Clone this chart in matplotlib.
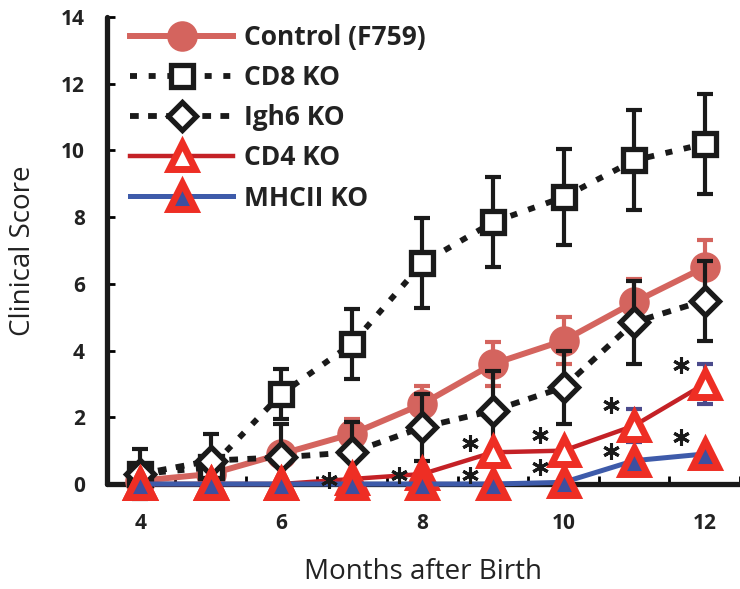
import matplotlib
matplotlib.use("Agg")
import matplotlib.pyplot as plt
from matplotlib.ticker import MultipleLocator

plt.rcParams['font.family'] = ['Open Sans', 'DejaVu Sans']

# data
months = [4, 5, 6, 7, 8, 9, 10, 11, 12]

control = [0.1, 0.3, 0.9, 1.5, 2.4, 3.6, 4.3, 5.45, 6.5]
control_err = [0.0, 0.0, 0.15, 0.45, 0.55, 0.65, 0.7, 0.7, 0.8]

cd8 = [0.3, 0.5, 2.7, 4.2, 6.62, 7.85, 8.6, 9.7, 10.2]
cd8_err = [0.3, 0.4, 0.75, 1.05, 1.35, 1.35, 1.45, 1.5, 1.5]

igh6 = [0.3, 0.7, 0.8, 0.95, 1.7, 2.2, 2.9, 4.85, 5.5]
igh6_err = [0.75, 0.8, 1.0, 0.9, 1.0, 1.2, 1.1, 1.25, 1.2]

cd4 = [0.0, 0.0, 0.0, 0.15, 0.3, 0.95, 1.0, 1.75, 3.0]
cd4_err = [0, 0, 0, 0, 0, 0, 0, 0.5, 0.6]

mhcii = [0.0, 0.0, 0.0, 0.0, 0.0, 0.0, 0.05, 0.7, 0.9]

# significance stars (month of point, height of the star)
cd4_sig = [7, 8, 9, 10, 11, 12]
cd4_star_y = [0.12, 0.27, 1.23, 1.47, 2.37, 3.57]
mhc_sig = [9, 10, 11, 12]
mhc_star_y = [0.27, 0.51, 0.99, 1.41]

fig = plt.figure(figsize=(7.4, 5.89), dpi=100)
ax = fig.add_axes([107 / 740, 105 / 589, 633 / 740, 467 / 589])

salmon = '#D4645E'
red_edge = '#EE2E24'
ink = '#1a1a1a'

series = [
    dict(y=control, err=control_err, label='Control (F759)', color=salmon, ls='-', lw=4.3,
         marker='o', ms=22, mfc=salmon, mec=salmon, mew=0, ecolor=salmon),
    dict(y=cd8, err=cd8_err, label='CD8 KO', color=ink, ls=(0, (1.2, 2.0)), lw=4.2,
         marker='s', ms=16.5, mfc='white', mec=ink, mew=3.8, ecolor=ink),
    dict(y=igh6, err=igh6_err, label='Igh6 KO', color=ink, ls=(0, (1.5, 1.6)), lw=4.2,
         marker='D', ms=14, mfc='white', mec=ink, mew=3.8, ecolor=ink),
    dict(y=cd4, err=cd4_err, label='CD4 KO', color='#C42126', ls='-', lw=3.2,
         marker='^', ms=19, mfc='white', mec=red_edge, mew=5, ecolor='#4B4B8C'),
    dict(y=mhcii, err=None, label='MHCII KO', color='#3E5BAA', ls='-', lw=3.6,
         marker='^', ms=19, mfc='#3D4FA0', mec=red_edge, mew=5, ecolor=None),
]

handles = []
for i, s in enumerate(series):
    z = 3 + i
    if s['err'] is not None:
        ax.errorbar(months, s['y'], yerr=s['err'], fmt='none', ecolor=s['ecolor'],
                    elinewidth=3, capsize=5.5, capthick=3, zorder=z, clip_on=False)
    line, = ax.plot(months, s['y'], color=s['color'], ls=s['ls'], lw=s['lw'],
                    marker=s['marker'], ms=s['ms'], mfc=s['mfc'], mec=s['mec'],
                    mew=s['mew'], label=s['label'], zorder=z + 0.5, clip_on=False,
                    dash_capstyle='butt')
    handles.append(line)

# asterisks just left of the starred points
ax.plot([m - 0.33 for m in cd4_sig], cd4_star_y, ls='none', marker=(6, 2, 0),
        ms=12, mew=2.2, color=ink, zorder=10, clip_on=False)
ax.plot([m - 0.33 for m in mhc_sig], mhc_star_y, ls='none', marker=(6, 2, 0),
        ms=12, mew=2.2, color=ink, zorder=10, clip_on=False)

ax.set_xlim(3.53, 12.5)
ax.set_ylim(0, 14)
ax.set_xticks([4, 6, 8, 10, 12])
ax.set_xticks([m + 0.5 for m in months], minor=True)
ax.yaxis.set_major_locator(MultipleLocator(2))

for side in ['top', 'right']:
    ax.spines[side].set_visible(False)
for side in ['left', 'bottom']:
    ax.spines[side].set_linewidth(3.8)
    ax.spines[side].set_color(ink)
    ax.spines[side].set_capstyle('round')

ax.tick_params(axis='x', which='major', length=0, pad=21, labelsize=15)
ax.tick_params(axis='x', which='minor', direction='in', length=6, width=2)
ax.tick_params(axis='y', which='major', direction='in', length=6, width=2, pad=16,
               labelsize=15)
for lab in ax.get_xticklabels() + ax.get_yticklabels():
    lab.set_fontweight('bold')
    lab.set_color('#222222')

ax.set_xlabel('Months after Birth', fontsize=20, color='#222222', labelpad=17)
ax.set_ylabel('Clinical Score', fontsize=20, color='#222222', labelpad=17)

leg = ax.legend(handles=handles, loc='upper left', bbox_to_anchor=(0.02, 1.008),
                frameon=False, fontsize=19, handlelength=3.9, handletextpad=0.4,
                labelspacing=0.5, borderaxespad=0)
for t in leg.get_texts():
    t.set_fontweight('bold')
    t.set_color('#222222')

fig.savefig('out.png', dpi=100)
